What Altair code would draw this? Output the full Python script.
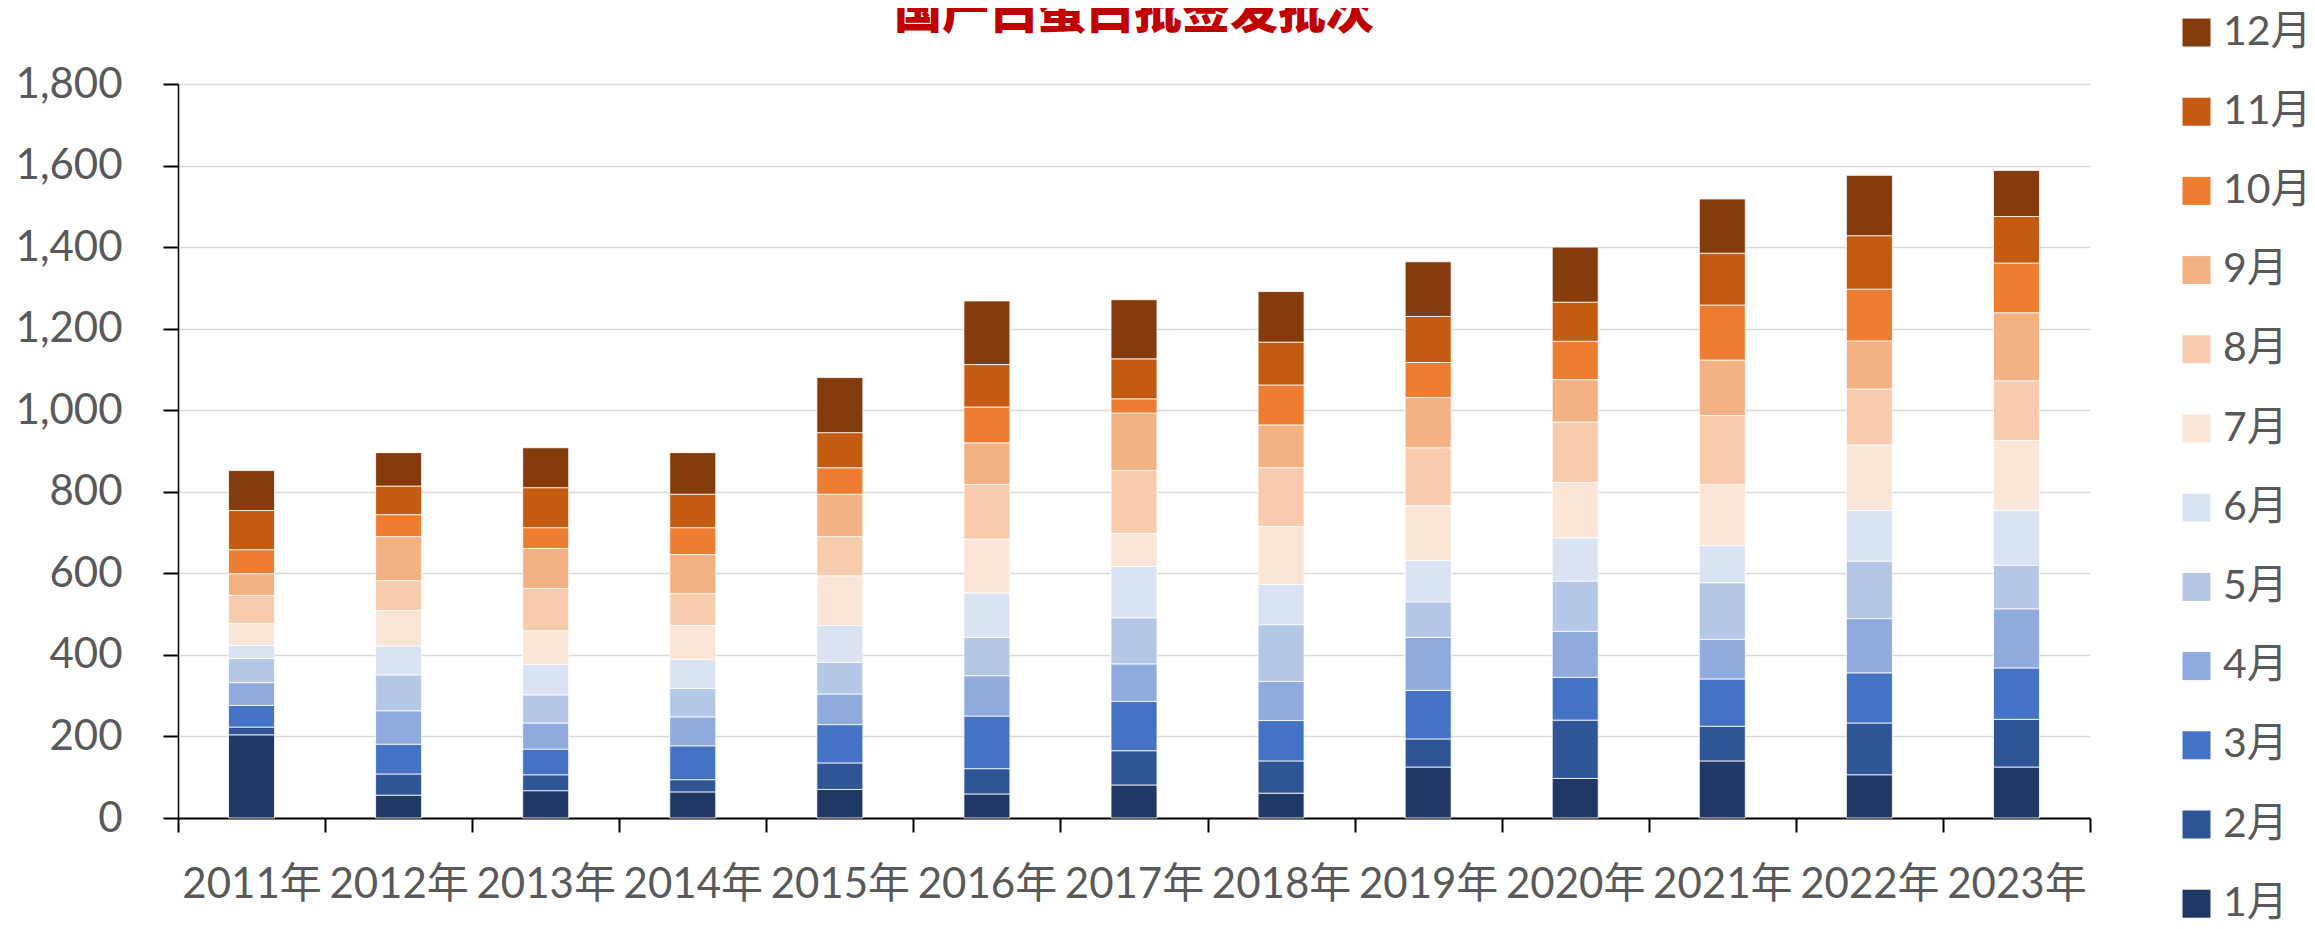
import altair as alt
import pandas as pd

title_text = "国产白蛋白批签发批次"
years = ["2011年", "2012年", "2013年", "2014年", "2015年", "2016年", "2017年",
         "2018年", "2019年", "2020年", "2021年", "2022年", "2023年"]
months = ["1月", "2月", "3月", "4月", "5月", "6月", "7月", "8月", "9月", "10月", "11月", "12月"]

m01 = [204, 56, 67, 64, 70, 59, 81, 61, 125, 97, 140, 106, 125]
m02 = [19, 52, 39, 30, 65, 62, 84, 79, 69, 143, 85, 127, 117]
m03 = [53, 73, 63, 83, 94, 129, 121, 99, 119, 105, 116, 123, 126]
m04 = [56, 82, 64, 71, 75, 99, 92, 96, 130, 113, 97, 133, 145]
m05 = [59, 88, 69, 70, 78, 94, 113, 139, 87, 123, 139, 141, 107]
m06 = [32, 71, 75, 71, 90, 109, 126, 99, 102, 106, 91, 124, 135]
m07 = [54, 87, 82, 83, 122, 132, 81, 142, 134, 136, 150, 161, 171]
m08 = [69, 73, 104, 78, 96, 134, 154, 144, 142, 148, 169, 137, 146]
m09 = [53, 108, 98, 96, 104, 102, 141, 105, 123, 104, 136, 118, 167]
m10 = [59, 54, 51, 66, 65, 88, 35, 98, 86, 94, 135, 127, 122]
m11 = [96, 70, 98, 82, 86, 104, 98, 105, 113, 96, 127, 131, 114]
m12 = [98, 82, 98, 102, 135, 156, 145, 124, 134, 135, 133, 148, 113]

series = [m01, m02, m03, m04, m05, m06, m07, m08, m09, m10, m11, m12]
colors = ["#203864", "#2F5597", "#4472C4", "#8FAADC", "#B4C7E7", "#DAE3F3",
          "#FBE5D6", "#F8CBAD", "#F4B183", "#ED7D31", "#C55A11", "#843C0C"]

rows = []
for mi, (m, vals) in enumerate(zip(months, series)):
    for y, v in zip(years, vals):
        rows.append({"年份": y, "月份": m, "批次": v, "序": mi})
df = pd.DataFrame(rows)

FONT = "Lato, 'Noto Sans CJK SC', sans-serif"
W, H = 1912, 734

bars = alt.Chart(df).mark_bar(size=46, stroke="white", strokeWidth=0.8).encode(
    x=alt.X("年份:N", sort=years, title=None,
            scale=alt.Scale(paddingInner=0, paddingOuter=0),
            axis=alt.Axis(labelAngle=0, tickBand="extent", tickSize=14, tickWidth=2,
                          tickColor="black", domainColor="black", domainWidth=2,
                          labelFont=FONT, labelFontSize=42, labelColor="#595959",
                          labelPadding=32, grid=False)),
    y=alt.Y("批次:Q", stack="zero", title=None,
            scale=alt.Scale(domain=[0, 1800], nice=False),
            axis=alt.Axis(values=list(range(0, 1801, 200)), format=",.0f",
                          tickSize=15, tickWidth=2, tickColor="black",
                          domainColor="black", domainWidth=1.5,
                          gridColor="#D9D9D9", gridWidth=1.5,
                          labelFont=FONT, labelFontSize=42, labelColor="#595959",
                          labelPadding=41)),
    color=alt.Color("月份:N",
                    scale=alt.Scale(domain=months[::-1], range=colors[::-1]),
                    legend=alt.Legend(orient="none", legendX=1998, legendY=-72,
                                      title=None, symbolType="square", symbolSize=784,
                                      symbolStrokeWidth=0, labelFont=FONT,
                                      labelFontSize=41, labelColor="#595959",
                                      labelOffset=6, rowPadding=37.2, padding=0)),
    order=alt.Order("序:Q", sort="ascending"),
)

title = alt.Chart(pd.DataFrame({"t": [title_text]})).mark_text(
    font="'Noto Sans CJK SC'", fontSize=48, fontWeight=900, color="#C00000",
    baseline="alphabetic", align="center"
).encode(text="t:N", x=alt.value(956), y=alt.value(-56))

chart = alt.layer(bars, title).properties(
    width=W, height=H,
    autosize=alt.AutoSizeParams(type="none"),
    padding={"left": 170, "top": 76, "right": 217, "bottom": 110},
).configure_view(stroke=None)

chart.save("out.html", embed_options={"renderer": "svg", "actions": False})
